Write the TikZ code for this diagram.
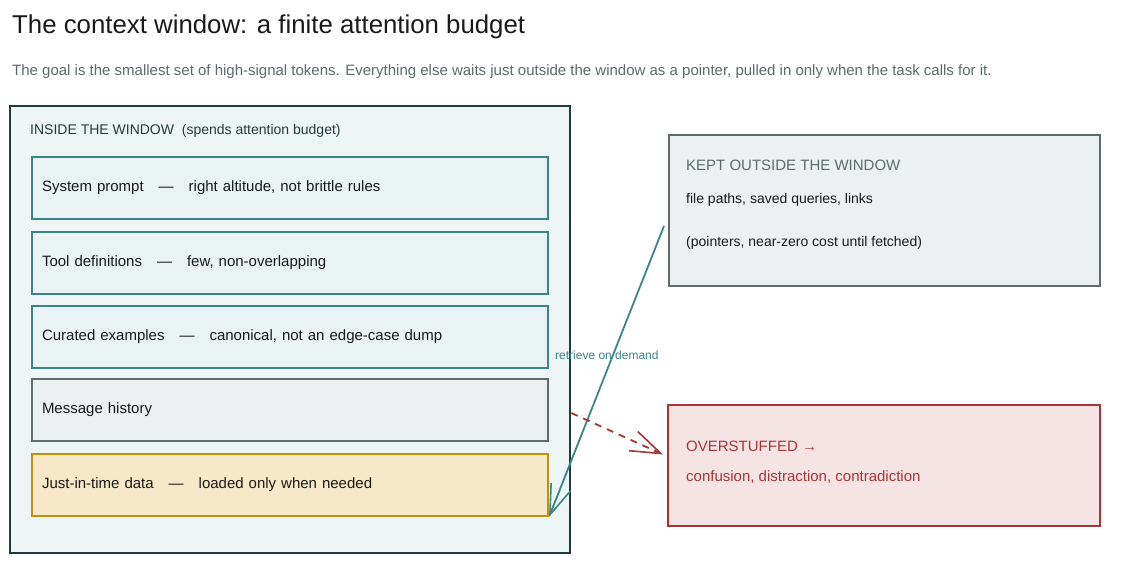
\documentclass[tikz,border=0pt]{standalone}
\usepackage{fontspec}
\setmainfont{Liberation Sans}
\usetikzlibrary{arrows.meta,calc}
\definecolor{outerline}{HTML}{1F3B3B}
\definecolor{outerfill}{HTML}{EEF6F5}
\definecolor{teal}{HTML}{3B8585}
\definecolor{tealfill}{HTML}{EAF3F3}
\definecolor{grayline}{HTML}{606B6B}
\definecolor{grayfill}{HTML}{EDF0F0}
\definecolor{goldline}{HTML}{C3900F}
\definecolor{goldfill}{HTML}{F7E8C8}
\definecolor{redline}{HTML}{A83535}
\definecolor{redfill}{HTML}{F6E3E3}
\definecolor{subgray}{HTML}{5D6B6B}
\definecolor{ink}{HTML}{1A1A1A}
\tikzset{
  itembox/.style={draw, line width=2pt, minimum width=516pt, minimum height=62pt,
    text width=496pt, align=left, inner xsep=10pt, font=\fontsize{15}{17}\selectfont, text=ink},
  tealbox/.style={itembox, draw=teal, fill=tealfill},
  txt/.style={anchor=base west, inner sep=0pt},
  openhead/.style={-{Straight Barb[length=30pt,width=21pt,line width=1.6pt]}}
}
\begin{document}
\begin{tikzpicture}[x=1pt,y=-1pt]
\useasboundingbox (0,0) rectangle (1140,564);
\fill[white] (0,0) rectangle (1140,564);
\node[txt, font=\fontsize{25.8}{30}\selectfont, text=ink] (title) at (12,34) {The context window: a finite attention budget};
\node[txt, font=\fontsize{15}{18}\selectfont, text=subgray] (sub) at (12,76) {The goal is the smallest set of high-signal tokens. Everything else waits just outside the window as a pointer, pulled in only when the task calls for it.};
% outer
\node[draw=outerline, fill=outerfill, line width=2.6pt, minimum width=560pt, minimum height=447pt, inner sep=0pt] (outer) at (290,329.5) {};
\node[txt, font=\fontsize{14}{16}\selectfont, text=outerline] (inlabel) at (30,135) {INSIDE THE WINDOW\ \ (spends attention budget)};
\node[tealbox] (sys) at (290,188) {System prompt\ \ \ —\ \ \ right altitude, not brittle rules};
\node[tealbox] (tool) at (290,263) {Tool definitions\ \ \ —\ \ \ few, non-overlapping};
\node[tealbox] (cur) at (290,337) {Curated examples\ \ \ —\ \ \ canonical, not an edge-case dump};
\node[itembox, draw=grayline, fill=grayfill] (msg) at (290,410) {Message history};
\node[itembox, draw=goldline, fill=goldfill] (jit) at (290,485) {Just-in-time data\ \ \ —\ \ \ loaded only when needed};
% kept outside
\node[draw=grayline, fill=grayfill, line width=2pt, minimum width=431pt, minimum height=151pt, inner sep=0pt] (kept) at (884.5,210.5) {};
\node[txt, font=\fontsize{15}{17}\selectfont, text=subgray] (kt) at (686,171) {KEPT OUTSIDE THE WINDOW};
\node[txt, font=\fontsize{14}{16}\selectfont, text=ink] (k1) at (686,204) {file paths, saved queries, links};
\node[txt, font=\fontsize{14}{16}\selectfont, text=ink] (k2) at (686,246) {(pointers, near-zero cost until fetched)};
% overstuffed
\node[draw=redline, fill=redfill, line width=2pt, minimum width=432pt, minimum height=121pt, inner sep=0pt] (over) at (884,465.5) {};
\node[txt, font=\fontsize{15}{17}\selectfont, text=redline] (ot) at (686,451) {OVERSTUFFED →};
\node[txt, font=\fontsize{15}{17}\selectfont, text=redline] (o1) at (686,481) {confusion, distraction, contradiction};
% connectors
\coordinate (kfrom) at ($(kept.west)+(-4,15.5)$);
\draw[teal, line width=1.8pt, openhead] (kfrom) -- (jit.south east);
\node[txt, font=\fontsize{12}{14}\selectfont, text=teal] (rlab) at (555,359) {retrieve on demand};
\coordinate (rfrom) at ($(outer.east |- msg.east)+(0,3)$);
\coordinate (rto) at ($(over.west)+(-4,-11)$);
\draw[redline, line width=1.8pt, dash pattern=on 7pt off 6pt, openhead] (rfrom) -- (rto);
\end{tikzpicture}
\end{document}
